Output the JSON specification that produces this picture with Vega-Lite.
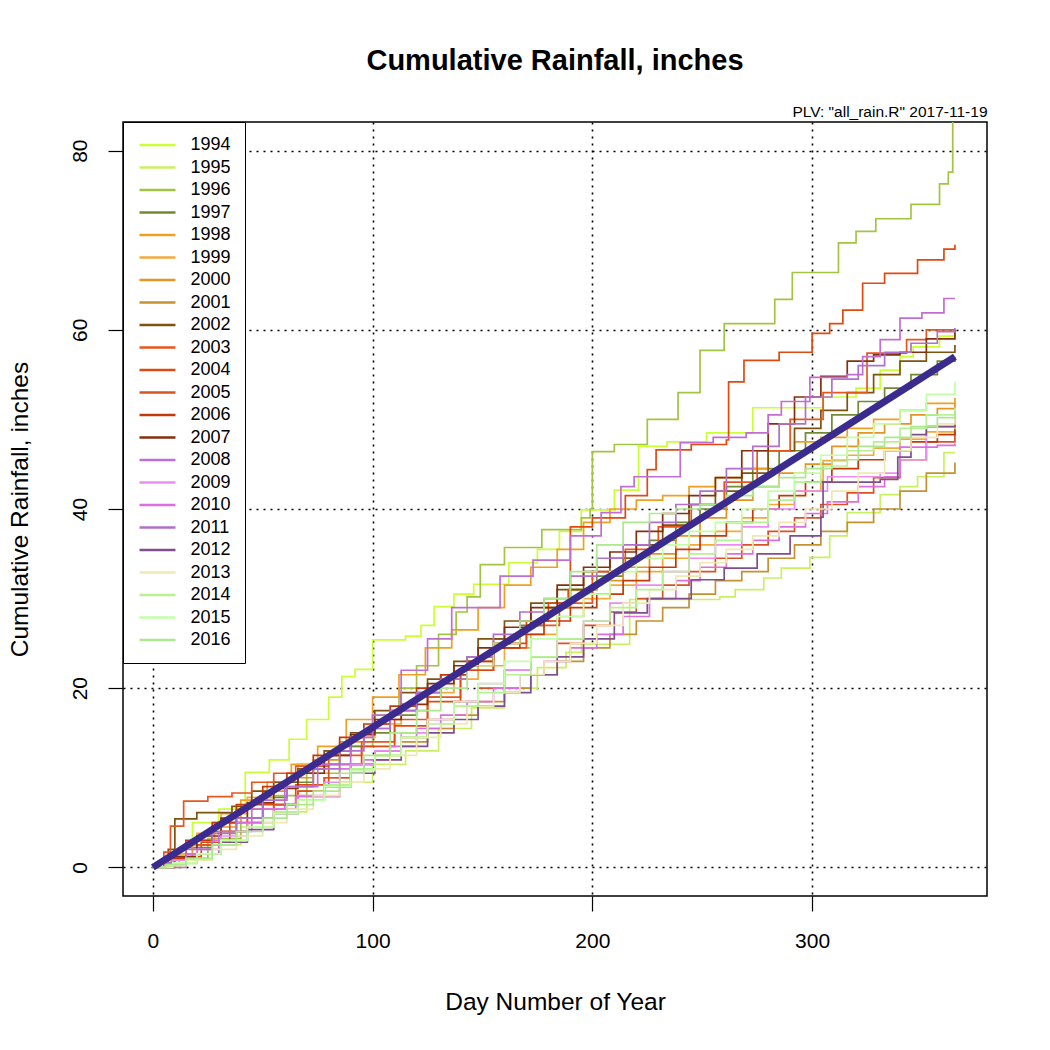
{
"$schema":"https://vega.github.io/schema/vega-lite/v6.json",
"width":864,"height":774,
"padding":{"left":7,"top":47,"right":10,"bottom":10},
"background":"white",
"config":{"font":"Liberation Sans","view":{"stroke":"black","strokeWidth":1.5},
"axis":{"labelFont":"Liberation Sans","titleFont":"Liberation Sans","labelFontSize":21,"titleFontSize":24.5,"titleFontWeight":"normal","labelColor":"black","titleColor":"black","tickColor":"black","domain":false,"tickSize":15,"tickWidth":1.2,"gridColor":"black","gridDash":[2,5],"gridWidth":1.6,"gridOpacity":1}},
"title":{"text":"Cumulative Rainfall, inches","fontSize":29,"fontWeight":"bold","font":"Liberation Sans","color":"black","anchor":"middle","offset":28},
"datasets":{
"mean":[{"d":0,"v":0},{"d":365,"v":57}],
"rain":[
{"s":"1994","d":0,"v":0},{"s":"1994","d":8,"v":1.5},{"s":"1994","d":18,"v":5},{"s":"1994","d":30,"v":6.5},{"s":"1994","d":42,"v":10.6},{"s":"1994","d":53,"v":12},{"s":"1994","d":62,"v":14.3},{"s":"1994","d":70,"v":16.5},{"s":"1994","d":80,"v":19},{"s":"1994","d":86,"v":21.3},{"s":"1994","d":92,"v":22.1},{"s":"1994","d":100,"v":25.4},{"s":"1994","d":115,"v":25.8},{"s":"1994","d":122,"v":27},{"s":"1994","d":128,"v":29.1},{"s":"1994","d":137,"v":30.5},{"s":"1994","d":146,"v":31.6},{"s":"1994","d":162,"v":34},{"s":"1994","d":175,"v":35.5},{"s":"1994","d":185,"v":37.5},{"s":"1994","d":195,"v":39.9},{"s":"1994","d":210,"v":42.1},{"s":"1994","d":221,"v":47},{"s":"1994","d":234,"v":47.5},{"s":"1994","d":252,"v":48.5},{"s":"1994","d":273,"v":51.3},{"s":"1994","d":305,"v":52.5},{"s":"1994","d":320,"v":53.5},{"s":"1994","d":331,"v":55.5},{"s":"1994","d":340,"v":57},{"s":"1994","d":346,"v":58.1},{"s":"1994","d":358,"v":59.3},{"s":"1994","d":365,"v":59.7},
{"s":"1995","d":0,"v":0},{"s":"1995","d":10,"v":0.8},{"s":"1995","d":25,"v":2.5},{"s":"1995","d":40,"v":4.5},{"s":"1995","d":55,"v":6.2},{"s":"1995","d":70,"v":8},{"s":"1995","d":85,"v":9.5},{"s":"1995","d":100,"v":11.5},{"s":"1995","d":115,"v":13},{"s":"1995","d":130,"v":15.5},{"s":"1995","d":145,"v":17.8},{"s":"1995","d":160,"v":20},{"s":"1995","d":175,"v":22.3},{"s":"1995","d":188,"v":24},{"s":"1995","d":195,"v":24.9},{"s":"1995","d":217,"v":29.9},{"s":"1995","d":258,"v":30.2},{"s":"1995","d":265,"v":31},{"s":"1995","d":278,"v":32.3},{"s":"1995","d":286,"v":33.4},{"s":"1995","d":299,"v":34.6},{"s":"1995","d":308,"v":37},{"s":"1995","d":316,"v":39.6},{"s":"1995","d":331,"v":41.6},{"s":"1995","d":340,"v":42.5},{"s":"1995","d":348,"v":43.6},{"s":"1995","d":360,"v":46.3},{"s":"1995","d":365,"v":46.3},
{"s":"1996","d":0,"v":0},{"s":"1996","d":12,"v":1},{"s":"1996","d":25,"v":3.2},{"s":"1996","d":40,"v":5.5},{"s":"1996","d":55,"v":8},{"s":"1996","d":70,"v":10.5},{"s":"1996","d":85,"v":13.5},{"s":"1996","d":100,"v":17},{"s":"1996","d":112,"v":20},{"s":"1996","d":120,"v":22.5},{"s":"1996","d":130,"v":26},{"s":"1996","d":138,"v":28.5},{"s":"1996","d":143,"v":30.2},{"s":"1996","d":149,"v":33.8},{"s":"1996","d":160,"v":35.7},{"s":"1996","d":177,"v":37.7},{"s":"1996","d":195,"v":39},{"s":"1996","d":199,"v":40},{"s":"1996","d":200,"v":46.4},{"s":"1996","d":210,"v":47.2},{"s":"1996","d":225,"v":50},{"s":"1996","d":239,"v":53},{"s":"1996","d":249,"v":57.7},{"s":"1996","d":260,"v":60.7},{"s":"1996","d":283,"v":63.4},{"s":"1996","d":291,"v":66.4},{"s":"1996","d":312,"v":69.7},{"s":"1996","d":320,"v":71},{"s":"1996","d":329,"v":72.4},{"s":"1996","d":345,"v":74},{"s":"1996","d":358,"v":76.3},{"s":"1996","d":362,"v":77.6},{"s":"1996","d":364,"v":85},
{"s":"1997","d":0,"v":0},{"s":"1997","d":6,"v":0.8},{"s":"1997","d":15,"v":2.2},{"s":"1997","d":27,"v":4},{"s":"1997","d":38,"v":5.5},{"s":"1997","d":50,"v":7.8},{"s":"1997","d":61,"v":9.5},{"s":"1997","d":73,"v":11.5},{"s":"1997","d":85,"v":13.5},{"s":"1997","d":96,"v":15},{"s":"1997","d":108,"v":17},{"s":"1997","d":120,"v":19},{"s":"1997","d":131,"v":21.5},{"s":"1997","d":143,"v":23.5},{"s":"1997","d":155,"v":25.5},{"s":"1997","d":167,"v":27},{"s":"1997","d":178,"v":29},{"s":"1997","d":190,"v":31},{"s":"1997","d":202,"v":32.5},{"s":"1997","d":214,"v":34.5},{"s":"1997","d":226,"v":36.5},{"s":"1997","d":238,"v":38.5},{"s":"1997","d":249,"v":40},{"s":"1997","d":261,"v":42.5},{"s":"1997","d":273,"v":44.5},{"s":"1997","d":285,"v":46.5},{"s":"1997","d":297,"v":48.5},{"s":"1997","d":309,"v":50.5},{"s":"1997","d":321,"v":52},{"s":"1997","d":333,"v":53.5},{"s":"1997","d":345,"v":55},{"s":"1997","d":357,"v":56.5},{"s":"1997","d":365,"v":57},
{"s":"1998","d":0,"v":0},{"s":"1998","d":8,"v":1},{"s":"1998","d":18,"v":3},{"s":"1998","d":28,"v":5},{"s":"1998","d":40,"v":7.5},{"s":"1998","d":52,"v":9.5},{"s":"1998","d":63,"v":11.5},{"s":"1998","d":75,"v":13.5},{"s":"1998","d":88,"v":16.5},{"s":"1998","d":100,"v":19},{"s":"1998","d":112,"v":21.5},{"s":"1998","d":124,"v":24.5},{"s":"1998","d":136,"v":26.5},{"s":"1998","d":148,"v":29},{"s":"1998","d":160,"v":31.5},{"s":"1998","d":172,"v":33.5},{"s":"1998","d":184,"v":35.5},{"s":"1998","d":196,"v":38.5},{"s":"1998","d":208,"v":40},{"s":"1998","d":220,"v":41},{"s":"1998","d":232,"v":41.5},{"s":"1998","d":244,"v":42.5},{"s":"1998","d":256,"v":43.5},{"s":"1998","d":268,"v":44.5},{"s":"1998","d":280,"v":46.5},{"s":"1998","d":292,"v":47.5},{"s":"1998","d":304,"v":48},{"s":"1998","d":316,"v":49},{"s":"1998","d":328,"v":50},{"s":"1998","d":340,"v":51},{"s":"1998","d":352,"v":51.8},{"s":"1998","d":365,"v":52.4},
{"s":"1999","d":0,"v":0},{"s":"1999","d":9,"v":1.5},{"s":"1999","d":20,"v":3.8},{"s":"1999","d":31,"v":6},{"s":"1999","d":43,"v":7.8},{"s":"1999","d":55,"v":9.5},{"s":"1999","d":66,"v":11.5},{"s":"1999","d":78,"v":13},{"s":"1999","d":90,"v":14.5},{"s":"1999","d":101,"v":16},{"s":"1999","d":113,"v":17.5},{"s":"1999","d":125,"v":19.5},{"s":"1999","d":137,"v":21},{"s":"1999","d":148,"v":22.5},{"s":"1999","d":160,"v":24.5},{"s":"1999","d":172,"v":26},{"s":"1999","d":184,"v":28},{"s":"1999","d":196,"v":30},{"s":"1999","d":208,"v":31.5},{"s":"1999","d":220,"v":33},{"s":"1999","d":232,"v":34.5},{"s":"1999","d":244,"v":36},{"s":"1999","d":256,"v":37.5},{"s":"1999","d":268,"v":39},{"s":"1999","d":280,"v":40.5},{"s":"1999","d":292,"v":42},{"s":"1999","d":304,"v":43.2},{"s":"1999","d":305,"v":45.4},{"s":"1999","d":316,"v":46},{"s":"1999","d":328,"v":46.8},{"s":"1999","d":340,"v":47.8},{"s":"1999","d":352,"v":48.6},{"s":"1999","d":365,"v":49.4},
{"s":"2000","d":0,"v":0},{"s":"2000","d":6,"v":0.8},{"s":"2000","d":15,"v":2.5},{"s":"2000","d":27,"v":4.5},{"s":"2000","d":38,"v":6.5},{"s":"2000","d":50,"v":8.5},{"s":"2000","d":61,"v":10},{"s":"2000","d":73,"v":12},{"s":"2000","d":85,"v":14},{"s":"2000","d":96,"v":15.5},{"s":"2000","d":108,"v":17.5},{"s":"2000","d":120,"v":19.5},{"s":"2000","d":131,"v":21.5},{"s":"2000","d":143,"v":23},{"s":"2000","d":155,"v":25},{"s":"2000","d":167,"v":27.5},{"s":"2000","d":178,"v":29},{"s":"2000","d":190,"v":31},{"s":"2000","d":202,"v":32},{"s":"2000","d":214,"v":33.5},{"s":"2000","d":226,"v":35},{"s":"2000","d":238,"v":37},{"s":"2000","d":249,"v":39},{"s":"2000","d":261,"v":41},{"s":"2000","d":273,"v":42.5},{"s":"2000","d":285,"v":44},{"s":"2000","d":297,"v":45},{"s":"2000","d":309,"v":47},{"s":"2000","d":321,"v":48.5},{"s":"2000","d":333,"v":49.5},{"s":"2000","d":345,"v":50.5},{"s":"2000","d":357,"v":51.2},{"s":"2000","d":365,"v":51.8},
{"s":"2001","d":0,"v":0},{"s":"2001","d":9,"v":1},{"s":"2001","d":20,"v":2.5},{"s":"2001","d":31,"v":4},{"s":"2001","d":43,"v":5.5},{"s":"2001","d":55,"v":7},{"s":"2001","d":66,"v":8.5},{"s":"2001","d":78,"v":10},{"s":"2001","d":90,"v":11.5},{"s":"2001","d":101,"v":12.5},{"s":"2001","d":113,"v":14},{"s":"2001","d":125,"v":15.5},{"s":"2001","d":137,"v":17},{"s":"2001","d":148,"v":18.5},{"s":"2001","d":160,"v":20},{"s":"2001","d":172,"v":21.5},{"s":"2001","d":184,"v":23},{"s":"2001","d":196,"v":24.5},{"s":"2001","d":208,"v":26},{"s":"2001","d":220,"v":27.5},{"s":"2001","d":232,"v":29},{"s":"2001","d":244,"v":30.5},{"s":"2001","d":256,"v":32},{"s":"2001","d":268,"v":33},{"s":"2001","d":280,"v":34.5},{"s":"2001","d":292,"v":36},{"s":"2001","d":304,"v":37.5},{"s":"2001","d":316,"v":38.5},{"s":"2001","d":328,"v":40},{"s":"2001","d":340,"v":42},{"s":"2001","d":352,"v":44},{"s":"2001","d":365,"v":45.2},
{"s":"2002","d":0,"v":0},{"s":"2002","d":7,"v":2},{"s":"2002","d":10,"v":5.4},{"s":"2002","d":20,"v":6.1},{"s":"2002","d":36,"v":6.8},{"s":"2002","d":45,"v":8.5},{"s":"2002","d":55,"v":9.5},{"s":"2002","d":66,"v":11},{"s":"2002","d":78,"v":13},{"s":"2002","d":90,"v":15},{"s":"2002","d":101,"v":17.5},{"s":"2002","d":113,"v":19.5},{"s":"2002","d":125,"v":21},{"s":"2002","d":137,"v":23},{"s":"2002","d":148,"v":25.5},{"s":"2002","d":160,"v":27.5},{"s":"2002","d":172,"v":29.5},{"s":"2002","d":184,"v":31},{"s":"2002","d":196,"v":33},{"s":"2002","d":208,"v":34.5},{"s":"2002","d":220,"v":36},{"s":"2002","d":232,"v":38.2},{"s":"2002","d":244,"v":40.5},{"s":"2002","d":256,"v":42},{"s":"2002","d":268,"v":44},{"s":"2002","d":280,"v":46.5},{"s":"2002","d":292,"v":49},{"s":"2002","d":304,"v":51},{"s":"2002","d":316,"v":53},{"s":"2002","d":328,"v":55},{"s":"2002","d":340,"v":56.5},{"s":"2002","d":352,"v":57.5},{"s":"2002","d":365,"v":58.3},
{"s":"2003","d":0,"v":0},{"s":"2003","d":5,"v":1.7},{"s":"2003","d":8,"v":4.6},{"s":"2003","d":14,"v":7.4},{"s":"2003","d":25,"v":7.9},{"s":"2003","d":36,"v":8.3},{"s":"2003","d":45,"v":9.5},{"s":"2003","d":55,"v":10.5},{"s":"2003","d":65,"v":11.3},{"s":"2003","d":80,"v":12.5},{"s":"2003","d":95,"v":14},{"s":"2003","d":110,"v":16.5},{"s":"2003","d":125,"v":19},{"s":"2003","d":140,"v":22},{"s":"2003","d":155,"v":24.5},{"s":"2003","d":170,"v":27},{"s":"2003","d":185,"v":29.5},{"s":"2003","d":200,"v":33},{"s":"2003","d":215,"v":35.5},{"s":"2003","d":230,"v":38},{"s":"2003","d":245,"v":40.5},{"s":"2003","d":260,"v":43},{"s":"2003","d":275,"v":46.5},{"s":"2003","d":290,"v":50},{"s":"2003","d":305,"v":53},{"s":"2003","d":325,"v":57.4},{"s":"2003","d":343,"v":58.9},{"s":"2003","d":352,"v":60},{"s":"2003","d":365,"v":60.1},
{"s":"2004","d":0,"v":0},{"s":"2004","d":10,"v":1.2},{"s":"2004","d":22,"v":2.8},{"s":"2004","d":35,"v":5},{"s":"2004","d":50,"v":7},{"s":"2004","d":65,"v":9.2},{"s":"2004","d":80,"v":11.5},{"s":"2004","d":95,"v":13.5},{"s":"2004","d":110,"v":15.8},{"s":"2004","d":125,"v":18.5},{"s":"2004","d":140,"v":22},{"s":"2004","d":155,"v":25},{"s":"2004","d":170,"v":27.5},{"s":"2004","d":180,"v":29.5},{"s":"2004","d":189,"v":31},{"s":"2004","d":190,"v":38},{"s":"2004","d":200,"v":39},{"s":"2004","d":215,"v":41.5},{"s":"2004","d":225,"v":44.4},{"s":"2004","d":229,"v":46.6},{"s":"2004","d":245,"v":47.2},{"s":"2004","d":261,"v":47.7},{"s":"2004","d":262,"v":54.2},{"s":"2004","d":269,"v":56.6},{"s":"2004","d":285,"v":57.5},{"s":"2004","d":300,"v":59.6},{"s":"2004","d":308,"v":60.7},{"s":"2004","d":314,"v":62.2},{"s":"2004","d":323,"v":65.2},{"s":"2004","d":333,"v":66.3},{"s":"2004","d":348,"v":67.8},{"s":"2004","d":360,"v":69},{"s":"2004","d":365,"v":69.5},
{"s":"2005","d":0,"v":0},{"s":"2005","d":9,"v":0.8},{"s":"2005","d":20,"v":2.5},{"s":"2005","d":31,"v":4},{"s":"2005","d":43,"v":5.5},{"s":"2005","d":55,"v":7},{"s":"2005","d":66,"v":8.5},{"s":"2005","d":78,"v":10},{"s":"2005","d":90,"v":11.5},{"s":"2005","d":101,"v":13},{"s":"2005","d":113,"v":14.5},{"s":"2005","d":125,"v":16.5},{"s":"2005","d":137,"v":18.5},{"s":"2005","d":148,"v":20},{"s":"2005","d":160,"v":22},{"s":"2005","d":172,"v":23.5},{"s":"2005","d":184,"v":25},{"s":"2005","d":196,"v":27},{"s":"2005","d":208,"v":28.5},{"s":"2005","d":220,"v":30},{"s":"2005","d":232,"v":31.5},{"s":"2005","d":244,"v":33},{"s":"2005","d":256,"v":34.5},{"s":"2005","d":268,"v":36},{"s":"2005","d":280,"v":37.5},{"s":"2005","d":292,"v":39},{"s":"2005","d":304,"v":40.5},{"s":"2005","d":316,"v":41.8},{"s":"2005","d":328,"v":43.5},{"s":"2005","d":340,"v":45.5},{"s":"2005","d":352,"v":47.5},{"s":"2005","d":365,"v":48.6},
{"s":"2006","d":0,"v":0},{"s":"2006","d":6,"v":1},{"s":"2006","d":15,"v":3},{"s":"2006","d":27,"v":5},{"s":"2006","d":38,"v":7},{"s":"2006","d":50,"v":9},{"s":"2006","d":61,"v":10.5},{"s":"2006","d":73,"v":12.5},{"s":"2006","d":85,"v":14.5},{"s":"2006","d":96,"v":16},{"s":"2006","d":108,"v":18},{"s":"2006","d":120,"v":20},{"s":"2006","d":131,"v":21.5},{"s":"2006","d":143,"v":23},{"s":"2006","d":155,"v":24.5},{"s":"2006","d":167,"v":26},{"s":"2006","d":178,"v":27.5},{"s":"2006","d":190,"v":29},{"s":"2006","d":202,"v":30.5},{"s":"2006","d":214,"v":32},{"s":"2006","d":226,"v":33.5},{"s":"2006","d":238,"v":35.5},{"s":"2006","d":249,"v":37},{"s":"2006","d":261,"v":38.5},{"s":"2006","d":273,"v":40},{"s":"2006","d":285,"v":41.5},{"s":"2006","d":297,"v":43},{"s":"2006","d":309,"v":44.5},{"s":"2006","d":321,"v":45.5},{"s":"2006","d":333,"v":46.5},{"s":"2006","d":345,"v":47.5},{"s":"2006","d":357,"v":48.3},{"s":"2006","d":365,"v":48.9},
{"s":"2007","d":0,"v":0},{"s":"2007","d":9,"v":1.2},{"s":"2007","d":20,"v":3.5},{"s":"2007","d":31,"v":5.5},{"s":"2007","d":43,"v":7.2},{"s":"2007","d":55,"v":8.8},{"s":"2007","d":66,"v":10.5},{"s":"2007","d":78,"v":12.5},{"s":"2007","d":90,"v":14.8},{"s":"2007","d":101,"v":16.5},{"s":"2007","d":113,"v":18.2},{"s":"2007","d":125,"v":20.5},{"s":"2007","d":137,"v":22.5},{"s":"2007","d":148,"v":24.5},{"s":"2007","d":160,"v":26.8},{"s":"2007","d":172,"v":29},{"s":"2007","d":184,"v":31.5},{"s":"2007","d":196,"v":33.5},{"s":"2007","d":208,"v":35.2},{"s":"2007","d":220,"v":37.5},{"s":"2007","d":232,"v":39.5},{"s":"2007","d":244,"v":41.5},{"s":"2007","d":256,"v":43.5},{"s":"2007","d":268,"v":46.5},{"s":"2007","d":280,"v":49.5},{"s":"2007","d":292,"v":52.5},{"s":"2007","d":304,"v":54.8},{"s":"2007","d":316,"v":56.5},{"s":"2007","d":328,"v":57.2},{"s":"2007","d":340,"v":57.5},{"s":"2007","d":352,"v":59},{"s":"2007","d":365,"v":60},
{"s":"2008","d":0,"v":0},{"s":"2008","d":15,"v":1.5},{"s":"2008","d":30,"v":4},{"s":"2008","d":45,"v":6.5},{"s":"2008","d":60,"v":9},{"s":"2008","d":75,"v":11.5},{"s":"2008","d":90,"v":14.5},{"s":"2008","d":100,"v":17},{"s":"2008","d":113,"v":22},{"s":"2008","d":125,"v":25.5},{"s":"2008","d":136,"v":29},{"s":"2008","d":158,"v":32.5},{"s":"2008","d":173,"v":34.3},{"s":"2008","d":190,"v":37},{"s":"2008","d":204,"v":39.6},{"s":"2008","d":213,"v":42.5},{"s":"2008","d":219,"v":43.6},{"s":"2008","d":240,"v":47.4},{"s":"2008","d":255,"v":48},{"s":"2008","d":270,"v":48.5},{"s":"2008","d":280,"v":50.5},{"s":"2008","d":286,"v":52},{"s":"2008","d":299,"v":54.7},{"s":"2008","d":316,"v":55},{"s":"2008","d":323,"v":57},{"s":"2008","d":331,"v":58.9},{"s":"2008","d":340,"v":61.3},{"s":"2008","d":350,"v":61.9},{"s":"2008","d":360,"v":63.5},{"s":"2008","d":365,"v":63.5},
{"s":"2009","d":0,"v":0},{"s":"2009","d":9,"v":0.8},{"s":"2009","d":20,"v":2},{"s":"2009","d":31,"v":3.5},{"s":"2009","d":43,"v":5},{"s":"2009","d":55,"v":6.5},{"s":"2009","d":66,"v":8},{"s":"2009","d":78,"v":9.5},{"s":"2009","d":90,"v":11.5},{"s":"2009","d":101,"v":13},{"s":"2009","d":113,"v":15},{"s":"2009","d":125,"v":16.5},{"s":"2009","d":137,"v":18.5},{"s":"2009","d":148,"v":20.5},{"s":"2009","d":160,"v":22},{"s":"2009","d":172,"v":23.5},{"s":"2009","d":184,"v":25.5},{"s":"2009","d":196,"v":27.5},{"s":"2009","d":208,"v":29.5},{"s":"2009","d":220,"v":31.5},{"s":"2009","d":232,"v":33},{"s":"2009","d":244,"v":34.5},{"s":"2009","d":256,"v":36},{"s":"2009","d":268,"v":38},{"s":"2009","d":280,"v":40},{"s":"2009","d":292,"v":42},{"s":"2009","d":307,"v":43.6},{"s":"2009","d":331,"v":44},{"s":"2009","d":340,"v":45.5},{"s":"2009","d":352,"v":49.2},{"s":"2009","d":365,"v":49.9},
{"s":"2010","d":0,"v":0},{"s":"2010","d":6,"v":0.5},{"s":"2010","d":15,"v":1.5},{"s":"2010","d":27,"v":3},{"s":"2010","d":38,"v":5},{"s":"2010","d":50,"v":6.5},{"s":"2010","d":65,"v":7.9},{"s":"2010","d":85,"v":11},{"s":"2010","d":96,"v":12},{"s":"2010","d":108,"v":13.5},{"s":"2010","d":120,"v":15.5},{"s":"2010","d":131,"v":17},{"s":"2010","d":143,"v":18.5},{"s":"2010","d":155,"v":20},{"s":"2010","d":167,"v":21.5},{"s":"2010","d":178,"v":23},{"s":"2010","d":190,"v":24.5},{"s":"2010","d":202,"v":26},{"s":"2010","d":214,"v":28},{"s":"2010","d":226,"v":30},{"s":"2010","d":238,"v":32},{"s":"2010","d":249,"v":33.5},{"s":"2010","d":261,"v":35},{"s":"2010","d":273,"v":36.5},{"s":"2010","d":285,"v":38},{"s":"2010","d":297,"v":39.5},{"s":"2010","d":307,"v":40.8},{"s":"2010","d":321,"v":42.5},{"s":"2010","d":333,"v":43.6},{"s":"2010","d":340,"v":46.9},{"s":"2010","d":357,"v":47.1},{"s":"2010","d":365,"v":47.3},
{"s":"2011","d":0,"v":0},{"s":"2011","d":6,"v":0.5},{"s":"2011","d":15,"v":2},{"s":"2011","d":27,"v":3.8},{"s":"2011","d":38,"v":5.5},{"s":"2011","d":50,"v":7.5},{"s":"2011","d":61,"v":9},{"s":"2011","d":73,"v":11},{"s":"2011","d":85,"v":13},{"s":"2011","d":96,"v":15.5},{"s":"2011","d":108,"v":17.5},{"s":"2011","d":120,"v":19.5},{"s":"2011","d":131,"v":21},{"s":"2011","d":143,"v":23.5},{"s":"2011","d":155,"v":26},{"s":"2011","d":167,"v":28.5},{"s":"2011","d":178,"v":30},{"s":"2011","d":190,"v":32.5},{"s":"2011","d":202,"v":34.5},{"s":"2011","d":214,"v":36},{"s":"2011","d":226,"v":38.5},{"s":"2011","d":238,"v":40.5},{"s":"2011","d":249,"v":42},{"s":"2011","d":261,"v":44.5},{"s":"2011","d":273,"v":47},{"s":"2011","d":285,"v":49.5},{"s":"2011","d":297,"v":52.5},{"s":"2011","d":309,"v":54.5},{"s":"2011","d":321,"v":56},{"s":"2011","d":333,"v":57.5},{"s":"2011","d":345,"v":58.5},{"s":"2011","d":357,"v":59.8},{"s":"2011","d":365,"v":60.2},
{"s":"2012","d":0,"v":0},{"s":"2012","d":9,"v":0.5},{"s":"2012","d":20,"v":1.5},{"s":"2012","d":31,"v":2.8},{"s":"2012","d":43,"v":4.2},{"s":"2012","d":55,"v":6},{"s":"2012","d":66,"v":7.5},{"s":"2012","d":78,"v":9},{"s":"2012","d":90,"v":10.5},{"s":"2012","d":101,"v":12},{"s":"2012","d":113,"v":13.5},{"s":"2012","d":125,"v":15},{"s":"2012","d":137,"v":16.5},{"s":"2012","d":148,"v":18},{"s":"2012","d":160,"v":19.5},{"s":"2012","d":172,"v":21.5},{"s":"2012","d":184,"v":23.5},{"s":"2012","d":196,"v":25.5},{"s":"2012","d":210,"v":28.4},{"s":"2012","d":225,"v":30},{"s":"2012","d":245,"v":32.1},{"s":"2012","d":260,"v":33.4},{"s":"2012","d":275,"v":35},{"s":"2012","d":290,"v":37},{"s":"2012","d":304,"v":39.1},{"s":"2012","d":305,"v":43},{"s":"2012","d":331,"v":43.3},{"s":"2012","d":339,"v":45.8},{"s":"2012","d":345,"v":48.3},{"s":"2012","d":352,"v":49.2},{"s":"2012","d":365,"v":50.4},
{"s":"2013","d":0,"v":0},{"s":"2013","d":6,"v":0.2},{"s":"2013","d":15,"v":0.8},{"s":"2013","d":27,"v":2},{"s":"2013","d":38,"v":3.5},{"s":"2013","d":50,"v":5},{"s":"2013","d":61,"v":6.5},{"s":"2013","d":73,"v":8},{"s":"2013","d":85,"v":9.5},{"s":"2013","d":96,"v":11},{"s":"2013","d":108,"v":12.5},{"s":"2013","d":120,"v":14.5},{"s":"2013","d":131,"v":16},{"s":"2013","d":143,"v":18},{"s":"2013","d":155,"v":19.5},{"s":"2013","d":167,"v":21.5},{"s":"2013","d":178,"v":23},{"s":"2013","d":190,"v":25},{"s":"2013","d":202,"v":27},{"s":"2013","d":214,"v":29.5},{"s":"2013","d":226,"v":31},{"s":"2013","d":238,"v":32.5},{"s":"2013","d":249,"v":34},{"s":"2013","d":261,"v":35.5},{"s":"2013","d":273,"v":37},{"s":"2013","d":285,"v":38.5},{"s":"2013","d":297,"v":40},{"s":"2013","d":309,"v":42},{"s":"2013","d":321,"v":44},{"s":"2013","d":333,"v":46.5},{"s":"2013","d":345,"v":48},{"s":"2013","d":357,"v":49.5},{"s":"2013","d":365,"v":50.6},
{"s":"2014","d":0,"v":0},{"s":"2014","d":9,"v":0.4},{"s":"2014","d":20,"v":1.5},{"s":"2014","d":31,"v":3},{"s":"2014","d":43,"v":4.5},{"s":"2014","d":55,"v":6.2},{"s":"2014","d":66,"v":7.5},{"s":"2014","d":78,"v":9.2},{"s":"2014","d":90,"v":11},{"s":"2014","d":101,"v":12.5},{"s":"2014","d":113,"v":14.5},{"s":"2014","d":125,"v":16},{"s":"2014","d":137,"v":18},{"s":"2014","d":148,"v":19.5},{"s":"2014","d":160,"v":21.5},{"s":"2014","d":172,"v":23.5},{"s":"2014","d":184,"v":25.5},{"s":"2014","d":196,"v":27.5},{"s":"2014","d":208,"v":29},{"s":"2014","d":220,"v":31},{"s":"2014","d":232,"v":33},{"s":"2014","d":244,"v":35},{"s":"2014","d":256,"v":36.5},{"s":"2014","d":268,"v":38.5},{"s":"2014","d":280,"v":41},{"s":"2014","d":292,"v":43},{"s":"2014","d":304,"v":44.8},{"s":"2014","d":316,"v":46.5},{"s":"2014","d":328,"v":47.5},{"s":"2014","d":340,"v":49},{"s":"2014","d":352,"v":50.5},{"s":"2014","d":365,"v":51.3},
{"s":"2015","d":0,"v":0},{"s":"2015","d":9,"v":0.5},{"s":"2015","d":20,"v":1.5},{"s":"2015","d":31,"v":3},{"s":"2015","d":43,"v":4.5},{"s":"2015","d":55,"v":6},{"s":"2015","d":66,"v":7.5},{"s":"2015","d":78,"v":9},{"s":"2015","d":90,"v":10.8},{"s":"2015","d":101,"v":12.5},{"s":"2015","d":113,"v":14.5},{"s":"2015","d":125,"v":16.5},{"s":"2015","d":137,"v":18.5},{"s":"2015","d":148,"v":20.5},{"s":"2015","d":160,"v":23},{"s":"2015","d":172,"v":25.5},{"s":"2015","d":184,"v":28},{"s":"2015","d":196,"v":30.5},{"s":"2015","d":208,"v":33},{"s":"2015","d":220,"v":34.5},{"s":"2015","d":232,"v":36},{"s":"2015","d":244,"v":37.5},{"s":"2015","d":256,"v":38.5},{"s":"2015","d":268,"v":40},{"s":"2015","d":280,"v":42},{"s":"2015","d":292,"v":44},{"s":"2015","d":304,"v":46},{"s":"2015","d":316,"v":48},{"s":"2015","d":328,"v":49.5},{"s":"2015","d":340,"v":51},{"s":"2015","d":352,"v":52.8},{"s":"2015","d":365,"v":54.2},
{"s":"2016","d":0,"v":0},{"s":"2016","d":6,"v":0.3},{"s":"2016","d":15,"v":1},{"s":"2016","d":27,"v":2.5},{"s":"2016","d":38,"v":4},{"s":"2016","d":50,"v":5.5},{"s":"2016","d":61,"v":7},{"s":"2016","d":73,"v":8.5},{"s":"2016","d":85,"v":10.5},{"s":"2016","d":96,"v":12.5},{"s":"2016","d":108,"v":15},{"s":"2016","d":120,"v":17.5},{"s":"2016","d":131,"v":20},{"s":"2016","d":143,"v":22.5},{"s":"2016","d":155,"v":25},{"s":"2016","d":167,"v":27.5},{"s":"2016","d":178,"v":30},{"s":"2016","d":190,"v":33},{"s":"2016","d":202,"v":36},{"s":"2016","d":214,"v":38.5},{"s":"2016","d":226,"v":39.5},{"s":"2016","d":238,"v":40},{"s":"2016","d":249,"v":40.5},{"s":"2016","d":261,"v":41.5},{"s":"2016","d":273,"v":42.5},{"s":"2016","d":285,"v":43.5},{"s":"2016","d":297,"v":44.5},{"s":"2016","d":309,"v":45.5},{"s":"2016","d":321,"v":47},{"s":"2016","d":333,"v":48},{"s":"2016","d":345,"v":49.2},{"s":"2016","d":357,"v":50.2},{"s":"2016","d":365,"v":51}
]},
"layer":[
{"data":{"name":"rain"},
 "mark":{"type":"line","interpolate":"step-after","strokeWidth":1.7,"clip":true},
 "encoding":{
  "x":{"field":"d","type":"quantitative","scale":{"domain":[-13.6,379.6],"nice":false,"zero":false},
       "axis":{"values":[0,100,200,300],"title":"Day Number of Year","labelPadding":19,"titlePadding":39,"grid":true,"labelFlush":false}},
  "y":{"field":"v","type":"quantitative","scale":{"domain":[-3.2,83.2],"nice":false,"zero":false},
       "axis":{"values":[0,20,40,60,80],"title":"Cumulative Rainfall, inches","labelAngle":-90,"labelAlign":"center","labelBaseline":"bottom","labelPadding":18,"titlePadding":37,"grid":true,"labelFlush":false}},
  "color":{"field":"s","type":"nominal",
    "scale":{"domain":["1994","1995","1996","1997","1998","1999","2000","2001","2002","2003","2004","2005","2006","2007","2008","2009","2010","2011","2012","2013","2014","2015","2016"],
             "range":["#CCFF33","#C8F060","#A2C443","#728A33","#F0A020","#F2AA3A","#E39424","#C49133","#7E5310","#E8561E","#E04A10","#D95324","#C33A0A","#84300F","#C16ED2","#EB8CF2","#DB6FE2","#B170C9","#7F4F8C","#F0E8B0","#B8F095","#C3FFA6","#ADE890"]},
    "legend":{"orient":"top-left","offset":0,"title":null,"symbolType":"M-2.5,0H2.5","symbolSize":207,"symbolStrokeWidth":2.4,"symbolOffset":11.5,"labelFontSize":18,"labelFont":"Liberation Sans","labelColor":"black","strokeColor":"black","fillColor":"white","padding":14,"rowPadding":4.5,"labelOffset":24,"labelLimit":0}}
 }},
{"data":{"name":"mean"},
 "mark":{"type":"line","color":"#3B2B8F","strokeWidth":7,"strokeCap":"butt","clip":true},
 "encoding":{
  "x":{"field":"d","type":"quantitative","axis":{"orient":"top","title":"PLV: \"all_rain.R\"  2017-11-19","labels":false,"ticks":false,"grid":false,"domain":false,"titleAnchor":"end","titleFontSize":15.5,"titlePadding":3}},
  "y":{"field":"v","type":"quantitative"}
 }}
],
"resolve":{"axis":{"x":"independent"}}
}
